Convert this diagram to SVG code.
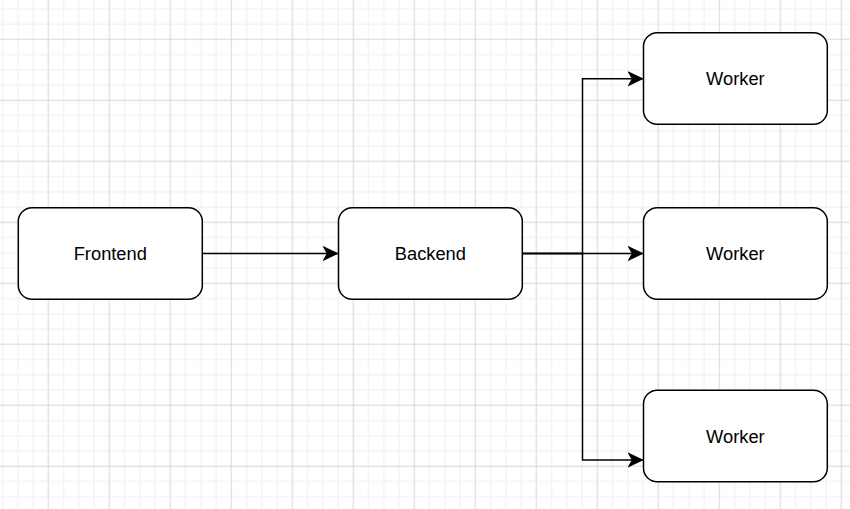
<svg xmlns="http://www.w3.org/2000/svg" width="850" height="509" viewBox="0 0 850 509">
  <style>
    .box { fill: #ffffff; stroke: #000000; stroke-width: 1.5; }
    .lbl { font-family: "Liberation Sans", Arial, Helvetica, sans-serif; font-size: 18.3px; fill: #000000; text-anchor: middle; }
    .edge { fill: none; stroke: #000000; stroke-width: 1.5; }
    .minor { stroke: #eeeeee; stroke-width: 1; }
    .major { stroke: #d6d6d6; stroke-width: 1; }
  </style>
  <defs>
    <pattern id="grid" patternUnits="userSpaceOnUse" x="40.675" y="31.675" width="61" height="61">
      <line class="minor" x1="22.875" y1="0" x2="22.875" y2="61"/>
      <line class="minor" x1="38.125" y1="0" x2="38.125" y2="61"/>
      <line class="minor" x1="53.375" y1="0" x2="53.375" y2="61"/>
      <line class="minor" x1="0" y1="22.875" x2="61" y2="22.875"/>
      <line class="minor" x1="0" y1="38.125" x2="61" y2="38.125"/>
      <line class="minor" x1="0" y1="53.375" x2="61" y2="53.375"/>
      <line class="major" x1="7.625" y1="0" x2="7.625" y2="61"/>
      <line class="major" x1="0" y1="7.625" x2="61" y2="7.625"/>
    </pattern>
    <marker id="arrow" markerUnits="userSpaceOnUse" markerWidth="16" markerHeight="16" viewBox="-14 -7 15 14" refX="0" refY="0" orient="auto">
      <path d="M0,0 L-13,-6.2 L-9.5,0 L-13,6.2 Z" fill="#000000" stroke="#000000" stroke-width="1"/>
    </marker>
  </defs>
  <rect x="0" y="0" width="850" height="509" fill="#ffffff"/>
  <rect x="0" y="0" width="850" height="509" fill="url(#grid)"/>

  <g id="connectors">
    <path class="edge" d="M202.3,253.5 L337.5,253.5" marker-end="url(#arrow)"/>
    <path class="edge" d="M522.3,253.5 L582.5,253.5 L582.5,78.8 L642.5,78.8" marker-end="url(#arrow)"/>
    <path class="edge" d="M522.3,253.5 L642.5,253.5" marker-end="url(#arrow)"/>
    <path class="edge" d="M522.3,253.5 L582.5,253.5 L582.5,460 L642.5,460" marker-end="url(#arrow)"/>
  </g>

  <g id="frontend">
    <rect class="box" x="18.3" y="207.7" width="184" height="91.6" rx="13.7" ry="13.7"/>
    <text class="lbl" x="110.3" y="260">Frontend</text>
  </g>
  <g id="backend">
    <rect class="box" x="338.5" y="207.7" width="183.8" height="91.6" rx="13.7" ry="13.7"/>
    <text class="lbl" x="430.4" y="260">Backend</text>
  </g>
  <g id="worker1">
    <rect class="box" x="643.5" y="32.7" width="183.8" height="91.6" rx="13.7" ry="13.7"/>
    <text class="lbl" x="735.4" y="85">Worker</text>
  </g>
  <g id="worker2">
    <rect class="box" x="643.5" y="207.7" width="183.8" height="91.6" rx="13.7" ry="13.7"/>
    <text class="lbl" x="735.4" y="260">Worker</text>
  </g>
  <g id="worker3">
    <rect class="box" x="643.5" y="390.2" width="183.8" height="91.6" rx="13.7" ry="13.7"/>
    <text class="lbl" x="735.4" y="442.5">Worker</text>
  </g>
</svg>
